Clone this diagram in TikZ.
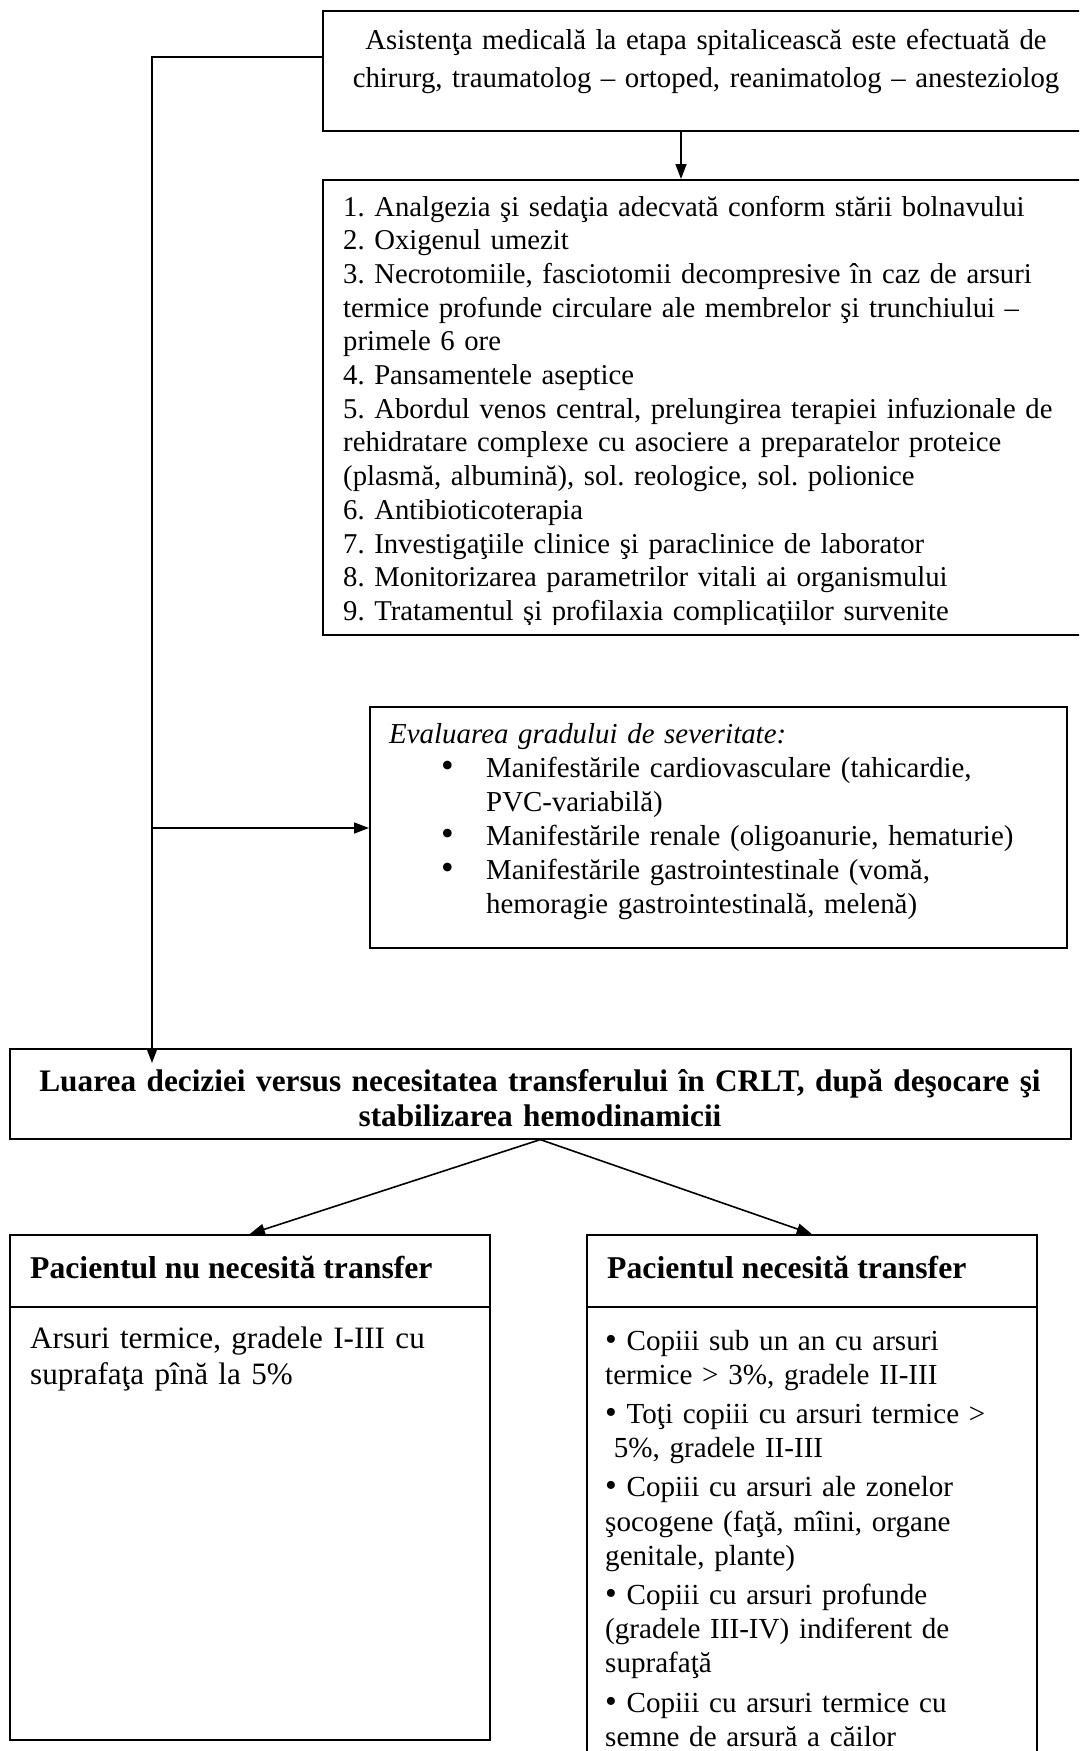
\documentclass[tikz,border=0pt]{standalone}
\usepackage{fontspec}
\setmainfont{Liberation Serif}
\usetikzlibrary{arrows.meta}
\newcommand\fsReg{\fontsize{28.7pt}{33.7pt}\selectfont}
\newcommand\fsBig{\fontsize{31.7pt}{35pt}\selectfont}
\newcommand\bigbul{\scalebox{1.25}{\textbullet}}
\newcommand\midbul{\scalebox{1.15}{\textbullet}}
\begin{document}
\frenchspacing
\begin{tikzpicture}[x=1pt,y=-1pt,
  boxline/.style={draw=black, line width=1.6pt},
  frame/.style={boxline, rectangle, inner sep=0pt, anchor=north west},
  arr/.style={draw=black, line width=1.6pt, -{Triangle[length=15pt,width=11pt]}},
  txt/.style={anchor=base west, inner sep=0pt, align=left},
  ctxt/.style={anchor=base, inner sep=0pt, align=center},
]
\useasboundingbox (0,0) rectangle (1079,1751);
\clip (0,0) rectangle (1079,1751);

% boxes
\node[frame, minimum width=770pt, minimum height=120pt] (b1) at (322,10) {};
\node[frame, minimum width=770pt, minimum height=455pt] (b2) at (322,179) {};
\node[frame, minimum width=697pt, minimum height=241pt] (b3) at (369,706) {};
\node[frame, minimum width=1061pt, minimum height=90pt] (b4) at (9,1048) {};
\node[frame, minimum width=480pt, minimum height=505pt] (b5) at (9,1234) {};
\node[frame, minimum width=450pt, minimum height=566pt] (b6) at (586,1234) {};

% dividers
\coordinate (dv) at (0,1307);
\draw[boxline] (dv -| b5.west) -- (dv -| b5.east);
\draw[boxline] (dv -| b6.west) -- (dv -| b6.east);

% texts
\node[ctxt, font=\fontsize{28.8pt}{38pt}\selectfont, text width=760pt] (t1) at (706,49)
 {Asistenţa medicală la etapa spitalicească este efectuată de\\
  chirurg, traumatolog – ortoped, reanimatolog – anesteziolog};

\begin{scope}
\clip (322,179) rectangle (1100,624);
\node[txt, font=\fsReg, text width=740pt] (t2) at (343,216)
 {1. Analgezia şi sedaţia adecvată conform stării bolnavului\\
  2. Oxigenul umezit\\
  3. Necrotomiile, fasciotomii decompresive în caz de arsuri\\
  termice profunde circulare ale membrelor şi trunchiului –\\
  primele 6 ore\\
  4. Pansamentele aseptice\\
  5. Abordul venos central, prelungirea terapiei infuzionale de\\
  rehidratare complexe cu asociere a preparatelor proteice\\
  (plasmă, albumină), sol. reologice, sol. polionice\\
  6. Antibioticoterapia\\
  7. Investigaţiile clinice şi paraclinice de laborator\\
  8. Monitorizarea parametrilor vitali ai organismului\\
  9. Tratamentul şi profilaxia complicaţiilor survenite};
\end{scope}

\node[txt, font=\fontsize{28.9pt}{34pt}\selectfont, text width=670pt] (t3) at (389,743)
 {\textit{Evaluarea gradului de severitate:}\\
  \hspace*{52pt}\makebox[45pt][l]{\bigbul}Manifestările cardiovasculare (tahicardie,\\
  \hspace*{97pt}PVC-variabilă)\\
  \hspace*{52pt}\makebox[45pt][l]{\bigbul}Manifestările renale (oligoanurie, hematurie)\\
  \hspace*{52pt}\makebox[45pt][l]{\bigbul}Manifestările gastrointestinale (vomă,\\
  \hspace*{97pt}hemoragie gastrointestinală, melenă)};

\node[ctxt, font=\fontsize{31.3pt}{35pt}\selectfont\bfseries, text width=1050pt] (t4) at (540,1091)
 {Luarea deciziei versus necesitatea transferului în CRLT, după deşocare şi\\
  stabilizarea hemodinamicii};

\node[txt, font=\fsBig\bfseries] (t5a) at (30,1278) {Pacientul nu necesită transfer};
\node[txt, font=\fontsize{31.1pt}{36.5pt}\selectfont, text width=450pt] (t5b) at (30,1348)
 {Arsuri termice, gradele I-III cu\\ suprafaţa pînă la 5\%};

\node[txt, font=\fsBig\bfseries] (t6a) at (607,1278) {Pacientul necesită transfer};
\node[txt, font=\fontsize{29.1pt}{34.2pt}\selectfont, text width=430pt] (t6b) at (605,1350)
 {\midbul{} Copiii sub un an cu arsuri\\
  termice > 3\%, gradele II-III\\[5pt]
  \midbul{} Toţi copiii cu arsuri termice >\\
  \hspace*{0.3em}5\%, gradele II-III\\[5pt]
  \midbul{} Copiii cu arsuri ale zonelor\\
  şocogene (faţă, mîini, organe\\
  genitale, plante)\\[5pt]
  \midbul{} Copiii cu arsuri profunde\\
  (gradele III-IV) indiferent de\\
  suprafaţă\\[5pt]
  \midbul{} Copiii cu arsuri termice cu\\
  semne de arsură a căilor};

% connectors
\coordinate (c1) at (681,0);
\draw[arr] (c1 |- b1.south) -- (c1 |- b2.north);
\coordinate (j1) at (152,57);
\coordinate (j2) at (152,828);
\draw[arr, shorten >=-15pt] (b1.west |- j1) -- (j1) -- (j1 |- b4.north);
\draw[arr] (j2) -- (j2 -| b3.west);
\draw[arr] (b4.south) -- (b5.north);
\draw[arr] (b4.south) -- (b6.north);
\end{tikzpicture}
\end{document}
